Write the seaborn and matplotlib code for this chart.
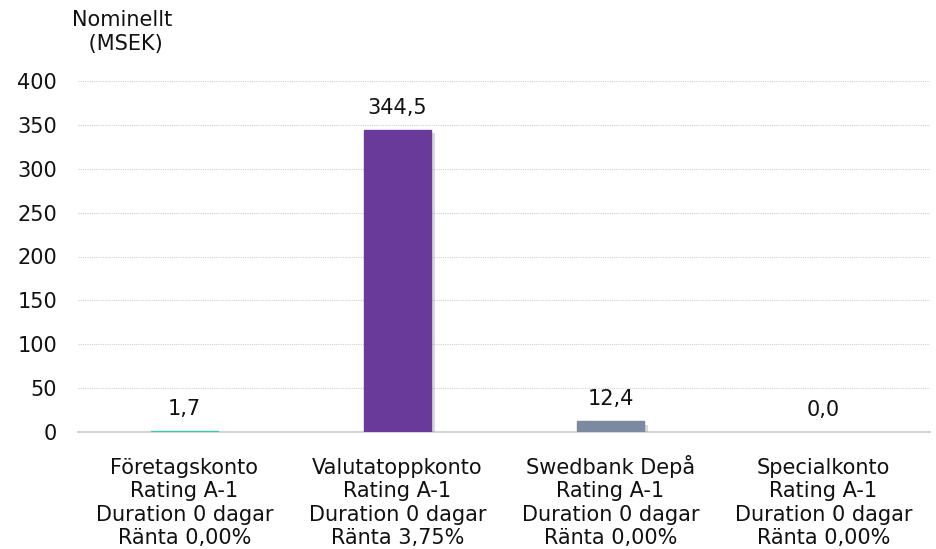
import matplotlib
matplotlib.use("Agg")
import matplotlib.pyplot as plt
import matplotlib.patheffects as pe
import seaborn as sns
import pandas as pd

categories = [
    "Företagskonto\nRating A-1\nDuration 0 dagar\nRänta 0,00%",
    "Valutatoppkonto\nRating A-1\nDuration 0 dagar\nRänta 3,75%",
    "Swedbank Depå\nRating A-1\nDuration 0 dagar\nRänta 0,00%",
    "Specialkonto\nRating A-1\nDuration 0 dagar\nRänta 0,00%",
]
values = [1.7, 344.5, 12.4, 0.0]
value_labels = ["1,7", "344,5", "12,4", "0,0"]
colors = ["#3cc8b0", "#6a3a9b", "#7b8aa0", "#8a8a8a"]
yticks = [0, 50, 100, 150, 200, 250, 300, 350, 400]

sns.set_theme(style="white")
plt.rcParams["font.family"] = ["DejaVu Sans"]

FS = 15
TXT = "#111111"

df = pd.DataFrame({"cat": categories, "val": values})

fig = plt.figure(figsize=(9.37, 5.49), dpi=100)
ax = fig.add_axes([78 / 937, 1 - 432 / 549, 852 / 937, 351 / 549])

sns.barplot(data=df, x="cat", y="val", hue="cat", palette=colors, legend=False,
            width=0.315, ax=ax, saturation=1)

for p in ax.patches:
    p.set_zorder(3)
    if p.get_height() > 0:
        p.set_edgecolor(p.get_facecolor())
        p.set_linewidth(1.0)
        p.set_path_effects([pe.SimplePatchShadow(offset=(2.5, -2.5), shadow_rgbFace="#aaaaaa", alpha=0.45),
                            pe.Normal()])
    else:
        p.set_linewidth(0)

ax.set_ylim(0, 400)
ax.set_yticks(yticks)
ax.set_yticklabels([str(t) for t in yticks], fontsize=FS, color=TXT)
ax.yaxis.grid(True, linestyle=(0, (1, 1)), color="#cfcfcf", linewidth=0.8)
ax.set_axisbelow(True)
ax.tick_params(axis="y", length=0, pad=15)
ax.tick_params(axis="x", length=0, pad=81)
for lbl in ax.get_xticklabels():
    lbl.set_fontsize(FS)
    lbl.set_linespacing(1.22)
    lbl.set_color(TXT)
    lbl.set_verticalalignment("baseline")
ax.set_xlabel("")
ax.set_ylabel("")
for s in ["left", "right", "top"]:
    ax.spines[s].set_visible(False)
ax.spines["bottom"].set_color("#d4d4d4")
ax.spines["bottom"].set_linewidth(1.5)
ax.spines["bottom"].set_zorder(2)

for i, (v, lab) in enumerate(zip(values, value_labels)):
    ax.annotate(lab, (i, v), xytext=(0, 11.5), textcoords="offset points",
                ha="center", va="baseline", fontsize=FS, color=TXT)

fig.text(122 / 937, 1 - 50 / 549, "Nominellt\n (MSEK)", ha="center", va="baseline",
         fontsize=FS, color=TXT, linespacing=1.22)

fig.savefig("out.png", dpi=100)
